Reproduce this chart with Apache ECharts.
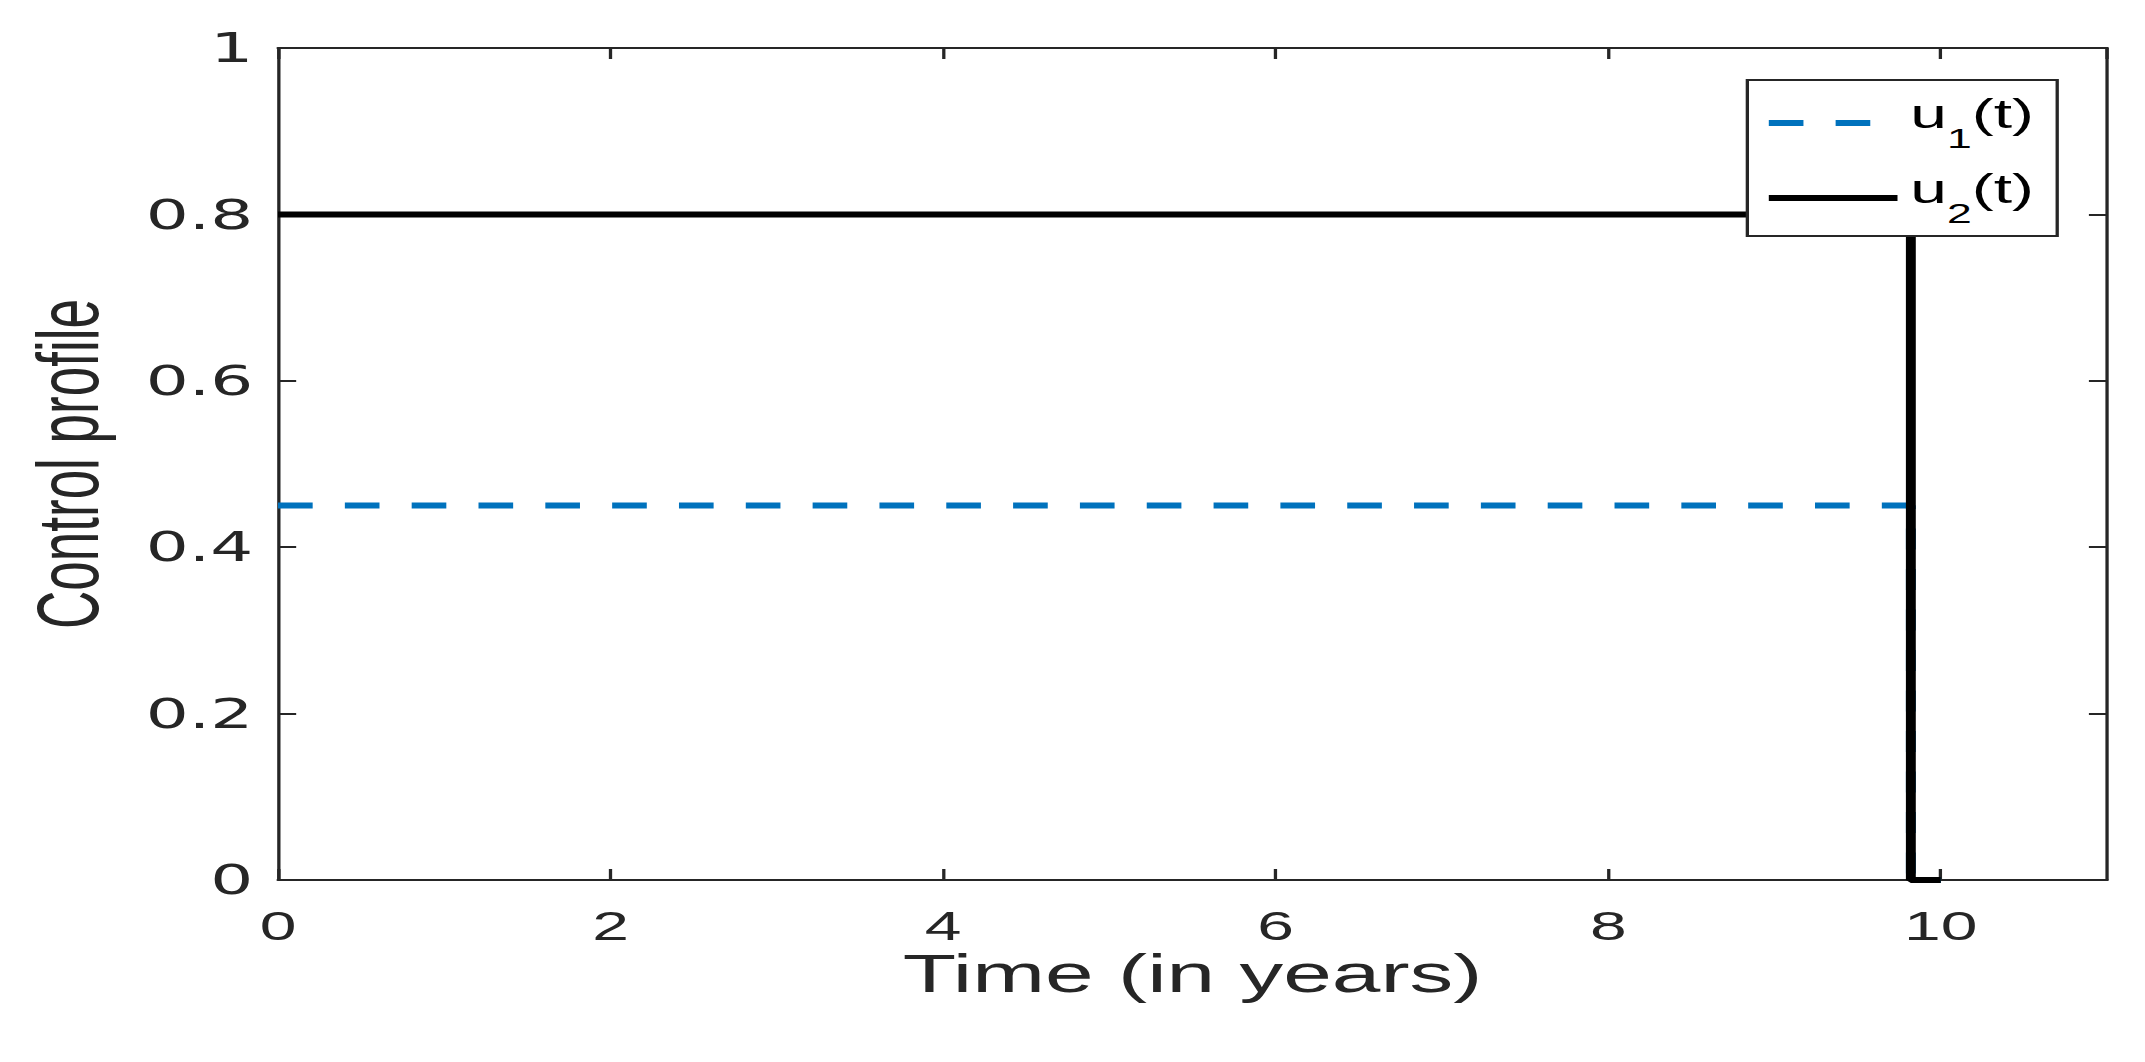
<!DOCTYPE html>
<html>
<head>
<meta charset="utf-8">
<script src="https://cdn.jsdelivr.net/npm/echarts@6/dist/echarts.min.js"></script>
<style>
    html, body { margin: 0; padding: 0; background: #fff; overflow: hidden; }
    /* the source figure is stretched sideways, so the chart is drawn narrow and widened */
    #chart { width: 1300px; height: 1062px; transform: scaleX(1.65); transform-origin: 0 0; }
</style>
</head>
<body>
<div id="chart"></div>
<script>
    // 数据
    var timeU1 = [0, 9.82, 9.82, 10];
    var valueU1 = [0.45, 0.45, 0, 0];
    var timeU2 = [0, 9.82, 9.82, 10];
    var valueU2 = [0.8, 0.8, 0, 0];
    var seriesNames = ['u1', 'u2'];
    var subscripts = { u1: '1', u2: '2' };

    function pairs(xs, ys) {
        var out = [];
        for (var i = 0; i < xs.length; i++) {
            out.push([xs[i], ys[i]]);
        }
        return out;
    }

    var axisColor = '#262626';
    var labelFont = 'Liberation Sans';

    var chart = echarts.init(document.getElementById('chart'), null, { renderer: 'svg' });

    // 四周边框 + 朝内刻度
    function boxAxis(extra) {
        return Object.assign({
            axisLine: { show: true, onZero: false, lineStyle: { color: axisColor, width: 2 } },
            axisTick: { show: true, inside: true, length: 11, lineStyle: { color: axisColor, width: 2 } },
            splitLine: { show: false }
        }, extra);
    }

    var option = {
        animation: false,
        backgroundColor: '#fff',
        grid: { left: 168.5, right: 23, top: 48, bottom: 182 },
        legend: {
            orient: 'vertical',
            left: 1059,
            top: 80,
            padding: [14, 14, 9, 10],
            itemGap: 17,
            itemWidth: 78,
            itemHeight: 14,
            itemTextGap: 10,
            borderColor: axisColor,
            borderWidth: 2,
            backgroundColor: '#fff',
            itemStyle: { opacity: 0 },
            lineStyle: { width: 6 },
            data: seriesNames,
            formatter: function (name) {
                // s 只用来撑高行，下标靠底对齐
                return '{s|\u00a0}{a|u}{b|' + subscripts[name] + '}{a|(t)}';
            },
            textStyle: {
                rich: {
                    s: { fontFamily: labelFont, fontSize: 10, lineHeight: 58, verticalAlign: 'top' },
                    a: { fontFamily: labelFont, fontSize: 40, lineHeight: 40, color: '#000', verticalAlign: 'top' },
                    b: { fontFamily: labelFont, fontSize: 27, lineHeight: 27, color: '#000', verticalAlign: 'bottom' }
                }
            }
        },
        xAxis: [
            boxAxis({
                type: 'value', min: 0, max: 11, interval: 2, position: 'bottom',
                name: 'Time (in years)', nameLocation: 'middle', nameGap: 67, nameMoveOverlap: false,
                nameTextStyle: { fontFamily: labelFont, fontSize: 53, lineHeight: 54, color: axisColor },
                axisLabel: { show: true, showMaxLabel: false, margin: 28, fontFamily: labelFont, fontSize: 40, lineHeight: 36, color: axisColor }
            }),
            boxAxis({
                type: 'value', min: 0, max: 11, interval: 2, position: 'top',
                axisLabel: { show: false }
            })
        ],
        yAxis: [
            boxAxis({
                type: 'value', min: 0, max: 1, interval: 0.2, position: 'left',
                name: 'Control profile', nameLocation: 'middle', nameGap: 101, nameMoveOverlap: false,
                nameTextStyle: { fontFamily: labelFont, fontSize: 53, color: axisColor },
                axisLabel: { show: true, margin: 15, fontFamily: 'DejaVu Sans', fontSize: 41, color: axisColor }
            }),
            boxAxis({
                type: 'value', min: 0, max: 1, interval: 0.2, position: 'right',
                axisLabel: { show: false }
            })
        ],
        series: [
            {
                name: 'u1',
                type: 'line',
                symbol: 'none',
                xAxisIndex: 0,
                yAxisIndex: 0,
                itemStyle: { color: '#0072BD' },
                lineStyle: { color: '#0072BD', width: 6, type: [21, 19.5] },
                data: pairs(timeU1, valueU1)
            },
            {
                name: 'u2',
                type: 'line',
                symbol: 'none',
                xAxisIndex: 0,
                yAxisIndex: 0,
                itemStyle: { color: '#000' },
                lineStyle: { color: '#000', width: 6, type: 'solid' },
                data: pairs(timeU2, valueU2)
            }
        ]
    };
    chart.setOption(option);
</script>
</body>
</html>
